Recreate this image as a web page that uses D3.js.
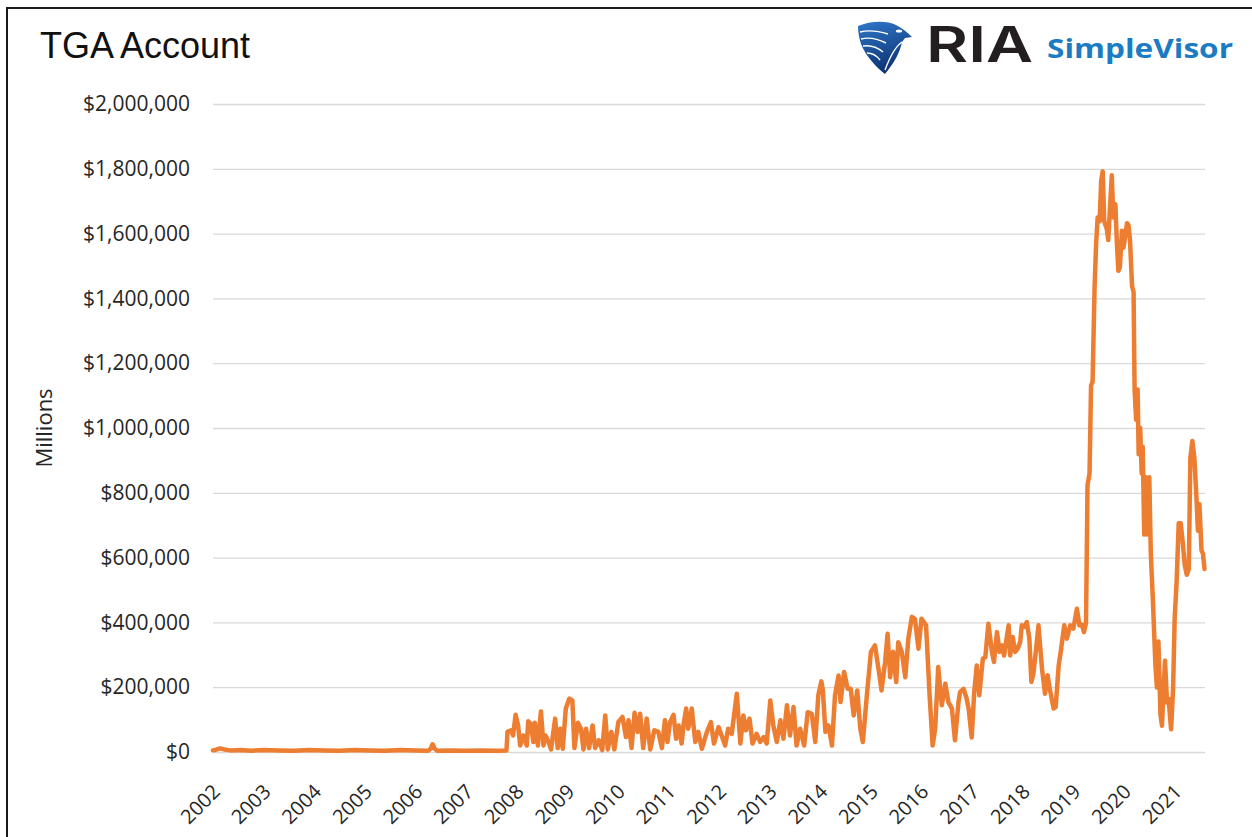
<!DOCTYPE html>
<html lang="en">
<head>
<meta charset="UTF-8">
<script src="https://cdnjs.cloudflare.com/ajax/libs/d3/7.8.5/d3.min.js"></script>
<style>
body{ margin:0; background-color:#fff; }
</style>
</head>
<body>
<div id="main-container"></div>
<script>
// weekly TGA balance (decimal year as drawn on the axis, $ millions)
const weeks = [
  2002.00,2002.06,2002.14,2002.22,2002.35,2002.55,2002.75,2003.00,2003.30,2003.60,2003.90,2004.20,2004.50,2004.80,
  2005.10,2005.40,2005.70,2006.00,2006.25,2006.30,2006.34,2006.38,2006.43,2006.70,2007.00,2007.30,2007.60,2007.80,
  2007.82,2007.89,2007.93,2007.98,2008.03,2008.07,2008.13,2008.20,2008.23,2008.28,2008.33,2008.36,2008.42,2008.48,
  2008.53,2008.57,2008.63,2008.68,2008.76,2008.81,2008.86,2008.91,2008.97,2009.04,2009.10,2009.14,2009.21,2009.27,
  2009.32,2009.37,2009.43,2009.50,2009.55,2009.62,2009.69,2009.75,2009.80,2009.87,2009.93,2010.01,2010.09,2010.16,
  2010.21,2010.27,2010.33,2010.39,2010.44,2010.50,2010.57,2010.64,2010.72,2010.80,2010.87,
  2010.93,2010.98,2011.03,2011.10,2011.15,2011.20,2011.26,2011.30,2011.35,2011.39,2011.46,2011.53,2011.59,2011.66,
  2011.76,2011.84,2011.90,2011.99,2012.05,2012.12,2012.18,2012.25,2012.35,2012.42,2012.48,2012.53,2012.60,2012.66,
  2012.74,2012.81,2012.88,2012.94,2013.01,2013.07,2013.14,2013.21,2013.27,2013.34,2013.40,2013.47,2013.53,2013.60,
  2013.68,2013.75,2013.83,2013.90,2013.96,2014.02,
  2014.05,2014.10,2014.16,2014.23,2014.29,2014.36,2014.40,2014.47,2014.54,2014.60,2014.66,2014.73,2014.79,2014.84,
  2014.92,2015.00,2015.08,2015.15,2015.21,2015.28,2015.33,2015.38,2015.44,2015.50,2015.54,2015.61,2015.68,2015.74,
  2015.81,2015.87,2015.94,2016.00,2016.09,2016.16,2016.22,2016.27,2016.33,2016.40,2016.47,2016.53,2016.60,2016.66,
  2016.73,2016.76,2016.83,2016.89,2016.93,2016.99,2017.04,2017.09,2017.14,2017.21,2017.26,2017.32,2017.39,2017.43,
  2017.49,2017.54,2017.59,2017.63,2017.67,2017.72,2017.75,2017.80,2017.85,2017.90,2017.95,2017.98,2018.03,2018.08,
  2018.13,2018.17,2018.21,2018.27,2018.31,2018.38,2018.44,2018.49,2018.54,2018.61,2018.65,2018.71,2018.75,2018.82,
  2018.87,2018.94,2019.00,2019.07,2019.12,
  2019.17,2019.21,2019.25,2019.28,2019.32,2019.35,2019.38,2019.42,2019.45,2019.48,2019.52,2019.55,2019.58,2019.61,
  2019.66,2019.69,2019.73,2019.76,2019.79,2019.83,2019.86,2019.89,2019.92,2019.96,2019.99,2020.02,2020.06,2020.09,
  2020.12,2020.16,2020.19,2020.21,2020.24,2020.27,2020.29,2020.32,2020.35,2020.37,2020.40,2020.43,2020.46,2020.50,
  2020.53,2020.57,2020.62,2020.65,2020.68,2020.72,2020.75,2020.78,2020.81,2020.85,2020.88,2020.93,2020.97,2021.00,
  2021.04,2021.08,2021.12,2021.16,2021.20,2021.24,2021.28,2021.31,2021.35,2021.39,2021.43,2021.46,2021.49,2021.53,
  2021.56,2021.59
];
const balance = [
  5000,7000,11000,8000,5000,6000,4000,6000,5000,4000,6000,5000,4000,6000,
  5000,4000,6000,5000,4000,10000,24000,10000,4000,5000,4000,5000,4000,5000,
  62000,67000,51000,115000,82000,20000,51000,20000,95000,87000,31000,90000,20000,125000,
  20000,51000,31000,8000,103000,12000,72000,10000,134000,165000,159000,12000,90000,72000,
  8000,72000,12000,82000,12000,36000,6000,113000,8000,62000,8000,93000,108000,46000,
  98000,12000,121000,62000,118000,12000,103000,8000,67000,62000,12000,
  98000,31000,92000,115000,41000,82000,26000,87000,134000,72000,134000,31000,62000,10000,
  62000,92000,26000,77000,51000,20000,72000,56000,180000,26000,113000,67000,103000,26000,
  56000,31000,46000,26000,159000,82000,31000,98000,41000,144000,51000,139000,20000,72000,
  20000,123000,118000,31000,175000,218000,
  190000,62000,82000,20000,175000,236000,154000,247000,195000,195000,113000,190000,72000,31000,
  175000,309000,329000,257000,190000,278000,365000,231000,309000,216000,339000,309000,231000,350000,
  417000,411000,319000,411000,391000,175000,20000,72000,262000,144000,211000,154000,134000,36000,
  154000,185000,195000,165000,134000,45000,185000,267000,175000,288000,293000,396000,309000,278000,
  370000,309000,329000,298000,340000,391000,298000,355000,309000,319000,340000,391000,386000,401000,
  350000,216000,242000,329000,391000,257000,180000,237000,190000,134000,139000,267000,309000,391000,
  350000,391000,381000,442000,391000,
  393000,370000,399000,824000,860000,1131000,1143000,1438000,1568000,1650000,1638000,1762000,1792000,1638000,
  1615000,1580000,1697000,1780000,1650000,1691000,1573000,1485000,1497000,1609000,1556000,1585000,1632000,1626000,
  1580000,1438000,1420000,1119000,1025000,1119000,919000,1001000,860000,942000,671000,848000,671000,848000,
  612000,470000,270000,199000,341000,117000,81000,187000,282000,152000,164000,70000,199000,411000,
  529000,706000,706000,647000,576000,547000,565000,907000,960000,907000,789000,683000,765000,623000,
  612000,565000
];
const yearLabels = ['2002','2003','2004','2005','2006','2007','2008','2009','2010','2011',
                    '2012','2013','2014','2015','2016','2017','2018','2019','2020','2021'];
const yTicks = [0,200000,400000,600000,800000,1000000,1200000,1400000,1600000,1800000,2000000];

const W = 1252, H = 837;
const plotLeft = 213, plotRight = 1205, plotTop = 104, plotBottom = 752;

function toDate(y){
  const yr = Math.floor(y);
  const s = Date.UTC(yr,0,1), e = Date.UTC(yr+1,0,1);
  return new Date(s + (y-yr)*(e-s));
}
const data = weeks.map((w,i) => ({date: toDate(w), v: balance[i]}));

const svg = d3.select('#main-container').append('svg').attr('width', W).attr('height', H);
svg.append('rect').attr('width', W).attr('height', H).attr('fill', '#fff');

// frame
svg.append('path').attr('d', 'M7,'+H+' L7,8 L'+W+',8').attr('fill','none').attr('stroke','#1a1a1a').attr('stroke-width',2);

const xScale = d3.scaleUtc().domain([toDate(2002), toDate(2021.6)]).range([plotLeft, plotRight]);
const yScale = d3.scaleLinear().domain([0, 2000000]).range([plotBottom, plotTop]);

// y axis + gridlines
const yAxis = d3.axisLeft(yScale).tickValues(yTicks).tickSize(-(plotRight-plotLeft)).tickPadding(23)
  .tickFormat(d => '$' + d3.format(',')(d));
const gy = svg.append('g').attr('transform', 'translate('+plotLeft+',0)').call(yAxis);
gy.select('.domain').remove();
gy.selectAll('.tick line').attr('stroke', '#d9d9d9').attr('stroke-width', 1.3);
gy.selectAll('.tick text').attr('fill', '#262626').style('font-family', '"Open Sans", sans-serif').style('font-size', '21px');

// x axis
const xAxis = d3.axisBottom(xScale).tickValues(yearLabels.map(l => toDate(+l))).tickSize(0)
  .tickFormat((d,i) => yearLabels[i]);
const gx = svg.append('g').attr('transform', 'translate(0,'+plotBottom+')').call(xAxis);
gx.select('.domain').remove();
gx.selectAll('.tick text').attr('fill', '#262626').attr('y', 0).attr('dy', '0.35em')
  .attr('text-anchor', 'end').attr('transform', 'translate(3,36) rotate(-45)')
  .style('font-family', '"Open Sans", sans-serif').style('font-size', '20px');

// series
const line = d3.line().x(d => xScale(d.date)).y(d => yScale(d.v));
svg.append('path').datum(data).attr('d', line).attr('fill', 'none')
  .attr('stroke', '#ED7D31').attr('stroke-width', 4.5).attr('stroke-linejoin', 'round').attr('stroke-linecap', 'round');

// titles
svg.append('text').attr('x', 40).attr('y', 58).text('TGA Account')
  .style('font-family', '"Liberation Sans", Arial, sans-serif').style('font-size', '36px')
  .attr('fill', '#111');
svg.append('text').attr('transform', 'translate(52,428) rotate(-90)').attr('text-anchor', 'middle').text('Millions')
  .style('font-family', '"Open Sans", sans-serif').style('font-size', '22px').attr('fill', '#262626');

// logo
const defs = svg.append('defs');
const grad = defs.append('linearGradient').attr('id', 'eagle').attr('x1', 0).attr('y1', 0).attr('x2', 0.3).attr('y2', 1);
grad.append('stop').attr('offset', '0%').attr('stop-color', '#2f78c8');
grad.append('stop').attr('offset', '100%').attr('stop-color', '#0d3474');
const logo = svg.append('g').attr('transform', 'translate(858,20)');
logo.append('path').attr('d', 'M0,6 C12,1 28,0 38,5 C44,8 49,12 54,17 L47,18 L44,22 C42,32 37,42 27,54 C17,46 8,36 3,24 C1,18 0,12 0,6 Z')
  .attr('fill', 'url(#eagle)');
logo.selectAll('path.feather').data([
  'M2,12 C10,10 20,11 30,14','M3,19 C11,17 20,19 28,23','M5,26 C12,25 19,27 25,32','M9,33 C14,33 19,36 22,40',
  'M44,22 C38,26 33,34 27,50'
]).enter().append('path').attr('class','feather').attr('d', d => d)
  .attr('fill', 'none').attr('stroke', '#fff').attr('stroke-width', 1.4);
logo.append('ellipse').attr('cx', 41).attr('cy', 11).attr('rx', 3.2).attr('ry', 1.6).attr('fill', '#fff');
svg.append('text').attr('x', 926).attr('y', 62).text('RIA').attr('textLength', 107).attr('lengthAdjust', 'spacingAndGlyphs')
  .style('font-family', 'Inter, sans-serif').style('font-weight', 600).style('font-size', '49px').attr('fill', '#231f20');
svg.append('text').attr('x', 1047).attr('y', 58).text('SimpleVisor').attr('textLength', 186).attr('lengthAdjust', 'spacingAndGlyphs')
  .style('font-family', '"Open Sans", sans-serif').style('font-weight', 700).style('font-size', '27px').attr('fill', '#1b7cc4');
</script>
</body>
</html>
